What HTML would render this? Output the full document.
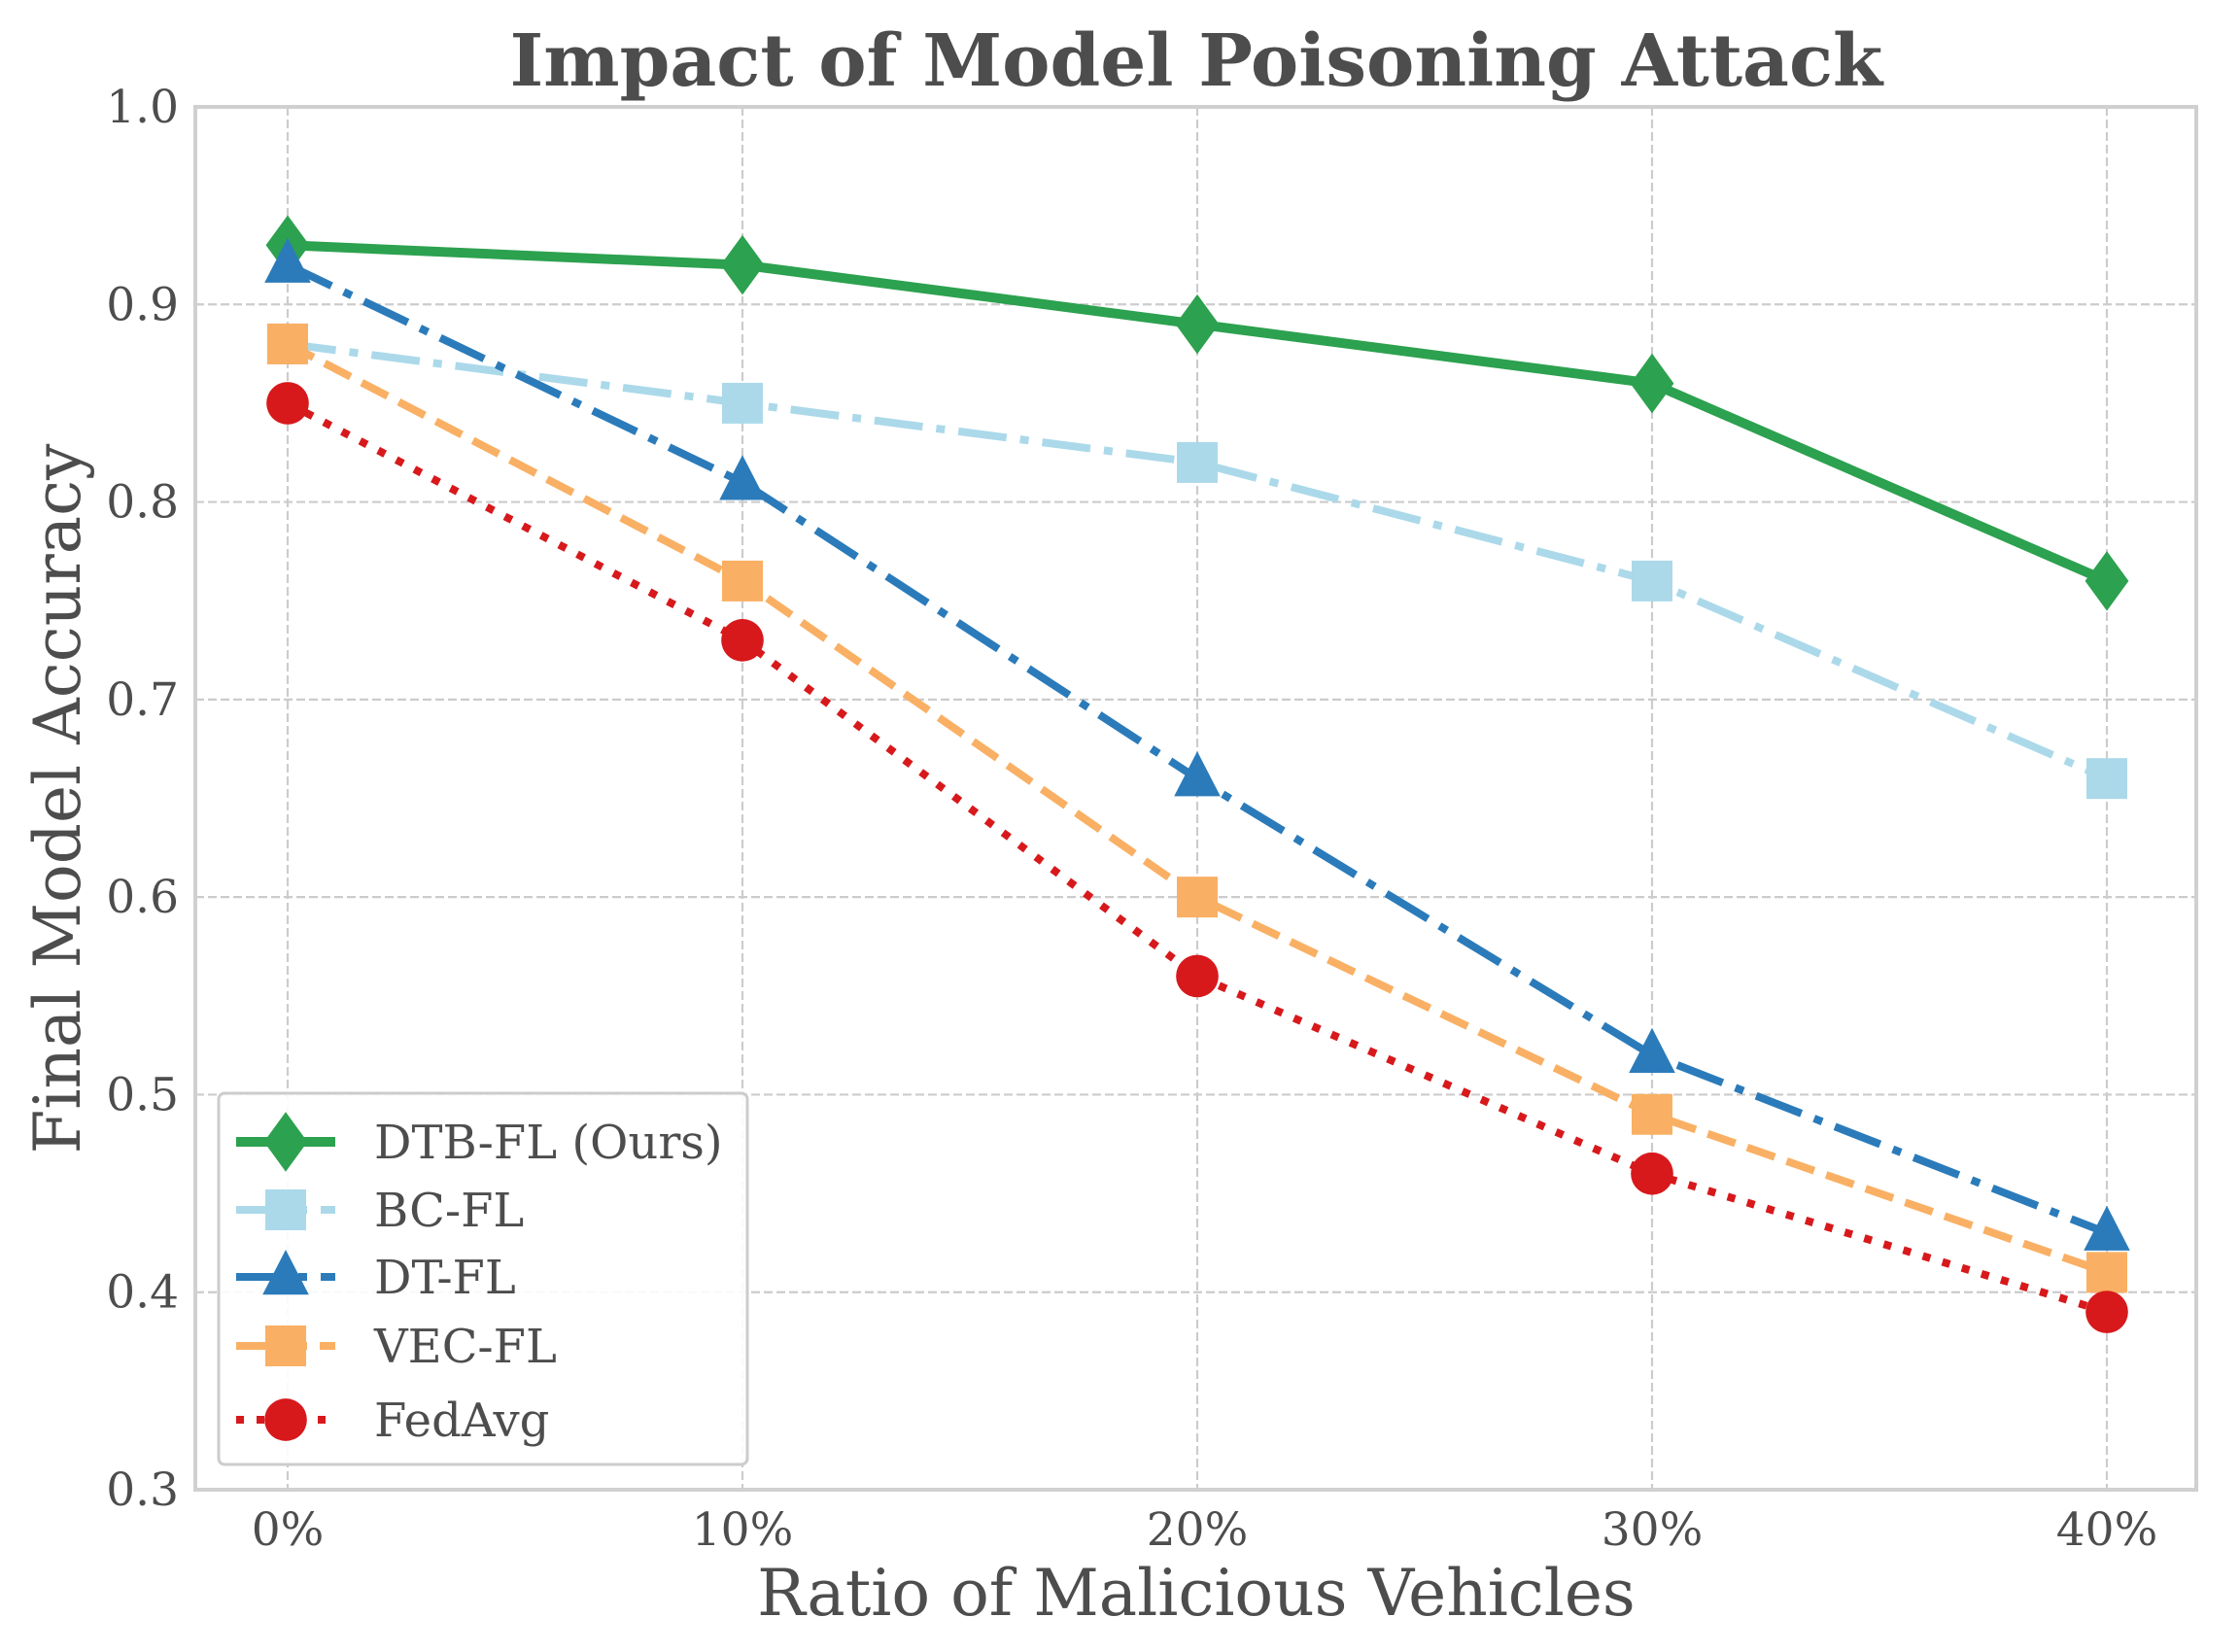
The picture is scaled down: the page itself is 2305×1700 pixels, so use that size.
<!DOCTYPE html>
<html><head><meta charset="utf-8"><style>
html,body{margin:0;padding:0;background:#fff;}
svg{display:block;font-family:"DejaVu Serif","Liberation Serif",serif;}
</style></head><body>
<svg id="chart" width="2305" height="1700" viewBox="0 0 2305 1700" xmlns="http://www.w3.org/2000/svg">
<text x="1231" y="88" text-anchor="middle" font-size="74" font-weight="bold" fill="#4d4d4d">Impact of Model Poisoning Attack</text>
<g id="grid"></g>
<g id="axes"></g>
<g id="series"></g>
<rect x="201" y="110" width="2059" height="1423" fill="none" stroke="#d0d0d0" stroke-width="4"/>
<text x="1231" y="1662" text-anchor="middle" font-size="66" fill="#4d4d4d">Ratio of Malicious Vehicles</text>
<text transform="translate(82,822) rotate(-90)" text-anchor="middle" font-size="66" fill="#4d4d4d">Final Model Accuracy</text>
<g id="legend"></g>
</svg>
<script>
const categories = ["0%","10%","20%","30%","40%"];
const yTicks = [0.3,0.4,0.5,0.6,0.7,0.8,0.9,1.0];
const yTickLabels = ["0.3","0.4","0.5","0.6","0.7","0.8","0.9","1.0"];
const seriesNames = ["DTB-FL (Ours)","BC-FL","DT-FL","VEC-FL","FedAvg"];
const dtbfl = [0.93,0.92,0.89,0.86,0.76];
const bcfl = [0.88,0.85,0.82,0.76,0.66];
const dtfl = [0.92,0.81,0.66,0.52,0.43];
const vecfl = [0.88,0.76,0.60,0.49,0.41];
const fedavg = [0.85,0.73,0.56,0.46,0.39];

const NS="http://www.w3.org/2000/svg";
const X0=296, X1=2168, Ytop=110, Ybot=1533, YMIN=0.3, YMAX=1.0;
function xs(i){return X0+(X1-X0)*i/(categories.length-1);}
function ys(v){return Ybot-(v-YMIN)/(YMAX-YMIN)*(Ybot-Ytop);}
function mk(tag,attrs,parent){const e=document.createElementNS(NS,tag);for(const k in attrs)e.setAttribute(k,attrs[k]);parent.appendChild(e);return e;}
const grid=document.getElementById('grid'), axes=document.getElementById('axes'), ser=document.getElementById('series'), leg=document.getElementById('legend');

yTicks.forEach((t,i)=>{
  const y=ys(t);
  if(t>YMIN&&t<YMAX){const l=mk('line',{x1:201,x2:2260,y1:y,y2:y,stroke:'#cccccc','stroke-width':2.2,'stroke-dasharray':'9,4'},grid);
  
  }
  const tx=mk('text',{x:184,y:y+16,'text-anchor':'end','font-size':47,fill:'#4d4d4d'},axes);
  tx.textContent=yTickLabels[i];
  
  
});
categories.forEach((c,i)=>{
  const x=xs(i);
  const l=mk('line',{x1:x,x2:x,y1:110,y2:1533,stroke:'#cccccc','stroke-width':2.2,'stroke-dasharray':'9,4'},grid);
  
  
  const tx=mk('text',{x:x,y:1590,'text-anchor':'middle','font-size':47,fill:'#4d4d4d'},axes);
  tx.textContent=c;
  
  
});

const styles=[
 {data:dtbfl,color:'#2ca14f',lw:10,dash:'',marker:'diamond'},
 {data:bcfl,color:'#abd9ea',lw:8,dash:'50,14,9,14',marker:'square'},
 {data:dtfl,color:'#2b7bba',lw:8,dash:'50,14,9,14',marker:'triangle'},
 {data:vecfl,color:'#f9b064',lw:8,dash:'30,13',marker:'square'},
 {data:fedavg,color:'#d7191c',lw:8,dash:'8,13',marker:'circle'}
];
function marker(type,x,y,color,parent,s){
  let e;
  if(type==='diamond') e=mk('polygon',{points:`${x},${y-s*1.1} ${x+s*0.8},${y} ${x},${y+s*1.1} ${x-s*0.8},${y}`,fill:color},parent);
  else if(type==='square') e=mk('rect',{x:x-s*0.75,y:y-s*0.75,width:s*1.5,height:s*1.5,fill:color},parent);
  else if(type==='triangle') e=mk('polygon',{points:`${x},${y-s*1.0} ${x+s*0.85},${y+s*0.65} ${x-s*0.85},${y+s*0.65}`,fill:color},parent);
  else e=mk('circle',{cx:x,cy:y,r:s*0.78,fill:color},parent);
  return e;
}
const S=28;
styles.forEach((st,si)=>{
  const g=mk('g',{},ser);
  
  
  const pts=st.data.map((v,i)=>xs(i)+','+ys(v)).join(' ');
  const pl=mk('polyline',{points:pts,fill:'none',stroke:st.color,'stroke-width':st.lw,'stroke-dasharray':st.dash,'stroke-linejoin':'round'},g);
  
  
  st.data.forEach((v,i)=>{
    const m=marker(st.marker,xs(i),ys(v),st.color,g,S);
    
    
  });
});

const lb=mk('rect',{x:225,y:1125,width:544,height:382,rx:6,fill:'#fff','fill-opacity':0.9,stroke:'#cccccc','stroke-width':3},leg);


const legY=[1175,1245,1314,1385,1461];
styles.forEach((st,si)=>{
  const g=mk('g',{},leg);
  
  
  const y=legY[si];
  mk('line',{x1:243,x2:345,y1:y,y2:y,stroke:st.color,'stroke-width':st.lw,'stroke-dasharray':st.dash},g);
  marker(st.marker,294,y,st.color,g,S);
  const t=mk('text',{x:385,y:y+17,'font-size':48,fill:'#4d4d4d'},g);
  t.textContent=seriesNames[si];
});
</script>
</body></html>
